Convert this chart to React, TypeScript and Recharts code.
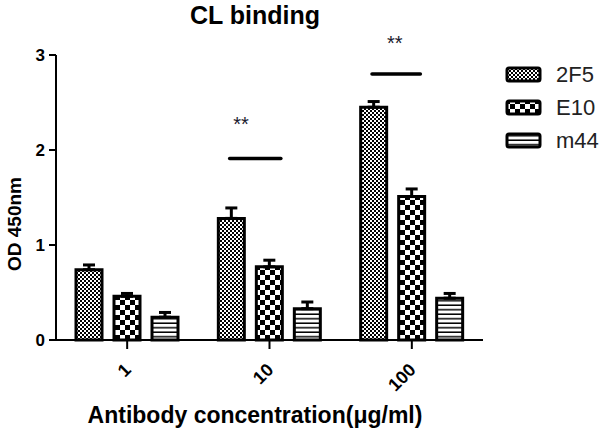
import React from 'react';
import {
    BarChart, Bar, XAxis, YAxis, ErrorBar, Legend, ReferenceLine, ReferenceDot
} from 'recharts';

// concentrations (µg/ml) on the x axis
const concentrations = ['1', '10', '100'];

// OD 450nm means and upper SEM per antibody
const od2F5 = [0.74, 1.28, 2.45];
const err2F5 = [0.05, 0.11, 0.06];
const odE10 = [0.46, 0.77, 1.51];
const errE10 = [0.03, 0.07, 0.08];
const odM44 = [0.24, 0.33, 0.44];
const errM44 = [0.05, 0.07, 0.05];

const yTicks = [0, 1, 2, 3];

// significance brackets: [start, end] on a 0..3 category scale, height in OD units
const sigFrom = [1.22, 2.22];
const sigTo = [1.58, 2.56];
const sigY = [1.91, 2.80];
const starX = [1.3, 2.38];
const starY = [2.28, 3.13];

const series = [
    { key: 'v2F5', err: 'e2F5', name: '2F5', pattern: 'pat2F5' },
    { key: 'vE10', err: 'eE10', name: 'E10', pattern: 'patE10' },
    { key: 'vM44', err: 'eM44', name: 'm44', pattern: 'patM44' },
];

const data = concentrations.map((c, i) => ({
    conc: c,
    pos: i + 0.5,
    v2F5: od2F5[i], e2F5: [0, err2F5[i]],
    vE10: odE10[i], eE10: [0, errE10[i]],
    vM44: odM44[i], eM44: [0, errM44[i]],
}));

const FONT = '"Liberation Sans", Arial, Helvetica, sans-serif';

function Patterns() {
    return (
        <svg width={0} height={0} style={{ position: 'absolute' }}>
            <defs>
                {/* fine checkerboard */}
                <pattern id="pat2F5" width={4} height={4} patternUnits="userSpaceOnUse">
                    <rect width={4} height={4} fill="#fff" />
                    <rect width={2} height={2} fill="#000" />
                    <rect x={2} y={2} width={2} height={2} fill="#000" />
                </pattern>
                {/* coarse checkerboard */}
                <pattern id="patE10" width={10} height={10} patternUnits="userSpaceOnUse">
                    <rect width={10} height={10} fill="#fff" />
                    <rect width={5} height={5} fill="#000" />
                    <rect x={5} y={5} width={5} height={5} fill="#000" />
                </pattern>
                {/* horizontal stripes */}
                <pattern id="patM44" width={4} height={4.5} patternUnits="userSpaceOnUse">
                    <rect width={4} height={4.5} fill="#fff" />
                    <rect y={3} width={4} height={1.5} fill="#000" />
                </pattern>
            </defs>
        </svg>
    );
}

function RotatedTick(props: any) {
    const { x, y, payload } = props;
    return (
        <g transform={`translate(${x + 5},${y + 22})`}>
            <text textAnchor="end" transform="rotate(-45)" fontFamily={FONT} fontWeight="bold" fontSize={18} fill="#000">
                {payload.value}
            </text>
        </g>
    );
}

function PatternLegend() {
    return (
        <div style={{ fontFamily: FONT }}>
            {series.map((s) => (
                <div key={s.key} style={{ display: 'flex', alignItems: 'center', height: 33 }}>
                    <svg width={38} height={18}>
                        <rect x={2} y={2} width={33} height={13} rx={2} fill={`url(#${s.pattern})`} stroke="#000" strokeWidth={3} />
                    </svg>
                    <span style={{ marginLeft: 13, fontSize: 22, color: '#222' }}>{s.name}</span>
                </div>
            ))}
        </div>
    );
}

export default function App() {
    return (
        <div style={{ position: 'relative', width: 605, height: 432, background: '#fff' }}>
            <style>{'body{margin:0}'}</style>
            <Patterns />
            <div style={{
                position: 'absolute', left: 0, width: 510, top: 1, textAlign: 'center',
                fontFamily: FONT, fontWeight: 'bold', fontSize: 25, color: '#000', lineHeight: '28px'
            }}>
                CL binding
            </div>
            <BarChart
                width={605}
                height={432}
                data={data}
                margin={{ top: 55, right: 122, bottom: 0, left: 0 }}
                barSize={26}
                barGap={12}
            >
                <XAxis
                    dataKey="conc"
                    height={92}
                    tickSize={9}
                    tickMargin={0}
                    axisLine={{ stroke: '#000', strokeWidth: 2 }}
                    tickLine={{ stroke: '#000', strokeWidth: 2 }}
                    tick={<RotatedTick />}
                    label={{
                        content: () => (
                            <text x={255} y={423} textAnchor="middle" fontFamily={FONT} fontWeight="bold" fontSize={23} fill="#000">
                                Antibody concentration(μg/ml)
                            </text>
                        ),
                    }}
                />
                <XAxis xAxisId="n" dataKey="pos" type="number" domain={[0, 3]} allowDataOverflow hide />
                <YAxis
                    width={56}
                    domain={[0, 3]}
                    ticks={yTicks}
                    tickSize={7}
                    tickMargin={4}
                    axisLine={{ stroke: '#000', strokeWidth: 2 }}
                    tickLine={{ stroke: '#000', strokeWidth: 2 }}
                    tick={{ fill: '#000', fontSize: 17, fontWeight: 'bold', fontFamily: FONT }}
                    label={{
                        content: () => (
                            <text x={21} y={224} transform="rotate(-90 21 224)" textAnchor="middle" fontFamily={FONT} fontWeight="bold" fontSize={19} fill="#000">
                                OD 450nm
                            </text>
                        ),
                    }}
                />
                <Legend
                    layout="vertical"
                    align="center"
                    verticalAlign="middle"
                    wrapperStyle={{ left: 505, top: 58, width: 100 }}
                    content={<PatternLegend />}
                />
                {series.map((s) => (
                    <Bar key={s.key} dataKey={s.key} name={s.name} fill={`url(#${s.pattern})`} stroke="#000" strokeWidth={3} isAnimationActive={false}>
                        <ErrorBar dataKey={s.err} width={6} stroke="#000" strokeWidth={3} direction="y" />
                    </Bar>
                ))}
                {sigFrom.map((x1, i) => (
                    <ReferenceLine
                        key={`sig${i}`}
                        xAxisId="n"
                        segment={[{ x: x1, y: sigY[i] }, { x: sigTo[i], y: sigY[i] }]}
                        stroke="#000"
                        strokeWidth={3.5}
                        strokeLinecap="round"
                        ifOverflow="visible"
                    />
                ))}
                {starX.map((x, i) => (
                    <ReferenceDot
                        key={`star${i}`}
                        xAxisId="n"
                        x={x}
                        y={starY[i]}
                        r={0}
                        stroke="none"
                        fill="none"
                        ifOverflow="visible"
                        label={{ value: '**', position: 'center', fill: '#1a1a2e', fontSize: 20, fontFamily: FONT }}
                    />
                ))}
            </BarChart>
        </div>
    );
}
